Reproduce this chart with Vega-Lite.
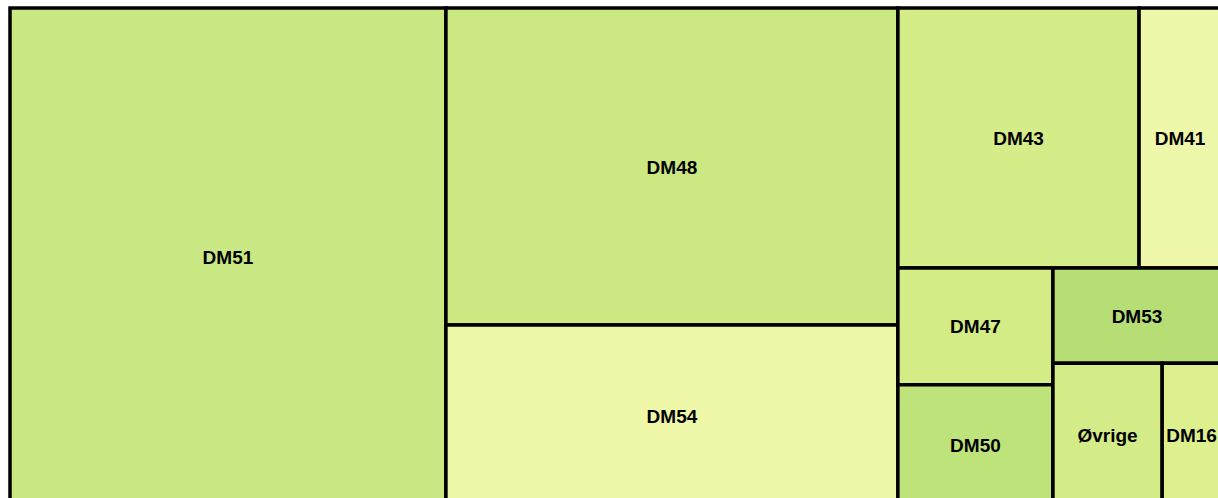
{
  "$schema": "https://vega.github.io/schema/vega-lite/v6.json",
  "width": 1211,
  "height": 498,
  "autosize": "none",
  "padding": {"left": 10, "top": 8, "right": 0, "bottom": 0},
  "background": "white",
  "config": {"view": {"stroke": null}},
  "data": {
    "values": [
      {"name": "DM51", "value": 217.1, "l1": "A", "l2": "DM51", "l3": "DM51", "l4": "DM51", "l5": "DM51"},
      {"name": "DM48", "value": 143.3, "l1": "B", "l2": "DM48", "l3": "DM48", "l4": "DM48", "l5": "DM48"},
      {"name": "DM54", "value": 81.8, "l1": "B", "l2": "DM54", "l3": "DM54", "l4": "DM54", "l5": "DM54"},
      {"name": "DM43", "value": 62.7, "l1": "C", "l2": "C1", "l3": "DM43", "l4": "DM43", "l5": "DM43"},
      {"name": "DM41", "value": 21.3, "l1": "C", "l2": "C1", "l3": "DM41", "l4": "DM41", "l5": "DM41"},
      {"name": "DM47", "value": 18.1, "l1": "C", "l2": "C2", "l3": "C2a", "l4": "DM47", "l5": "DM47"},
      {"name": "DM50", "value": 18.8, "l1": "C", "l2": "C2", "l3": "C2a", "l4": "DM50", "l5": "DM50"},
      {"name": "DM53", "value": 16.0, "l1": "C", "l2": "C2", "l3": "C2b", "l4": "DM53", "l5": "DM53"},
      {"name": "Øvrige", "value": 15.6, "l1": "C", "l2": "C2", "l3": "C2b", "l4": "C2b2", "l5": "Øvrige"},
      {"name": "DM16", "value": 8.4, "l1": "C", "l2": "C2", "l3": "C2b", "l4": "C2b2", "l5": "DM16"}
    ]
  },
  "transform": [
    {"window": [{"op": "sum", "field": "value", "as": "cAll"}], "frame": [null, 0]},
    {"window": [{"op": "sum", "field": "value", "as": "c1"}], "groupby": ["l1"], "frame": [null, 0]},
    {"window": [{"op": "sum", "field": "value", "as": "c2"}], "groupby": ["l2"], "frame": [null, 0]},
    {"window": [{"op": "sum", "field": "value", "as": "c3"}], "groupby": ["l3"], "frame": [null, 0]},
    {"window": [{"op": "sum", "field": "value", "as": "c4"}], "groupby": ["l4"], "frame": [null, 0]},
    {"window": [{"op": "sum", "field": "value", "as": "c5"}], "groupby": ["l5"], "frame": [null, 0]},
    {"joinaggregate": [{"op": "sum", "field": "value", "as": "T"}]},
    {"joinaggregate": [{"op": "sum", "field": "value", "as": "s1"}], "groupby": ["l1"]},
    {"joinaggregate": [{"op": "sum", "field": "value", "as": "s2"}], "groupby": ["l2"]},
    {"joinaggregate": [{"op": "sum", "field": "value", "as": "s3"}], "groupby": ["l3"]},
    {"joinaggregate": [{"op": "sum", "field": "value", "as": "s4"}], "groupby": ["l4"]},
    {"joinaggregate": [{"op": "sum", "field": "value", "as": "s5"}], "groupby": ["l5"]},
    {"calculate": "(datum.cAll - datum.c1) / datum.T", "as": "px1"},
    {"calculate": "datum.s1 / datum.T", "as": "w1"},
    {"calculate": "(datum.c1 - datum.c2) / datum.s1", "as": "py2"},
    {"calculate": "datum.s2 / datum.s1", "as": "h2"},
    {"calculate": "datum.px1 + (datum.c2 - datum.c3) / datum.s2 * datum.w1", "as": "px3"},
    {"calculate": "datum.s3 / datum.s2 * datum.w1", "as": "w3"},
    {"calculate": "datum.py2 + (datum.c3 - datum.c4) / datum.s3 * datum.h2", "as": "py4"},
    {"calculate": "datum.s4 / datum.s3 * datum.h2", "as": "h4"},
    {"calculate": "datum.px3 + (datum.c4 - datum.c5) / datum.s4 * datum.w3", "as": "px5"},
    {"calculate": "datum.s5 / datum.s4 * datum.w3", "as": "w5"},
    {"calculate": "datum.px5 + datum.w5", "as": "xe"},
    {"calculate": "datum.py4 + datum.h4", "as": "ye"},
    {"calculate": "datum.px5 + datum.w5 / 2", "as": "cx"},
    {"calculate": "datum.py4 + datum.h4 / 2", "as": "cy"}
  ],
  "layer": [
    {
      "mark": {"type": "rect", "stroke": "black", "strokeWidth": 3.5},
      "encoding": {
        "x": {"field": "px5", "type": "quantitative", "scale": {"domain": [0, 1], "nice": false, "zero": false}, "axis": null},
        "x2": {"field": "xe"},
        "y": {"field": "py4", "type": "quantitative", "scale": {"domain": [0, 1], "nice": false, "zero": false, "reverse": true}, "axis": null},
        "y2": {"field": "ye"},
        "color": {
          "field": "name",
          "type": "nominal",
          "legend": null,
          "scale": {
            "domain": ["DM51", "DM48", "DM54", "DM43", "DM41", "DM47", "DM50", "DM53", "Øvrige", "DM16"],
            "range": ["#c9e883", "#cbe883", "#eff7a9", "#d5ed88", "#eff7ab", "#d3ec86", "#bee37b", "#b6de74", "#d4ec88", "#dcf08e"]
          }
        }
      }
    },
    {
      "mark": {"type": "text", "font": "Liberation Sans", "fontSize": 19, "fontWeight": "bold", "color": "black", "align": "center", "baseline": "middle", "dy": 1},
      "encoding": {
        "x": {"field": "cx", "type": "quantitative"},
        "y": {"field": "cy", "type": "quantitative"},
        "text": {"field": "name", "type": "nominal"}
      }
    }
  ]
}
